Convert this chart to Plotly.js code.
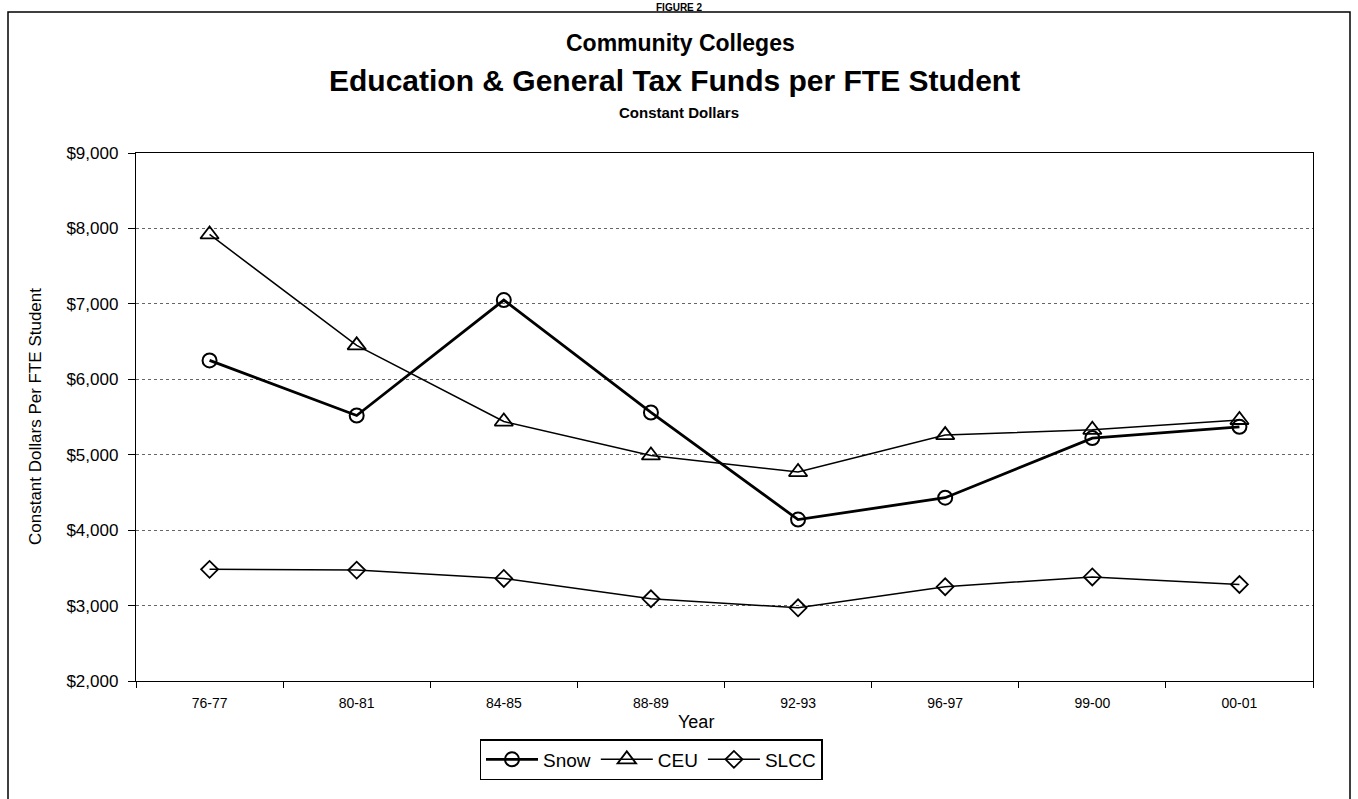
<!DOCTYPE html>
<html>
<head>
<meta charset="utf-8">
<script src="https://cdn.plot.ly/plotly-3.0.1.min.js"></script>
<style>html,body{margin:0;padding:0;background:#fff;}#chart{width:1358px;height:799px;}</style>
</head>
<body>
<div id="chart"></div>
<script>
const years = ["76-77","80-81","84-85","88-89","92-93","96-97","99-00","00-01"];
const snow = [6250, 5520, 7050, 5560, 4140, 4430, 5220, 5370];
const ceu  = [7920, 6450, 5440, 4990, 4770, 5260, 5330, 5460];
const slcc = [3480, 3470, 3360, 3090, 2970, 3250, 3380, 3280];

const FONT = '"Liberation Sans Narrow", "Arial Narrow", "Liberation Sans", Arial, sans-serif';
const W = 1358, H = 799, L = 136, R = 45, T = 153, B = 118;
const pw = W - L - R, ph = H - T - B;
const px = x => (x - L) / pw;
const py = y => (H - B - y) / ph;

const traces = [
  {x: years, y: snow, name: "Snow", type: "scatter", mode: "lines+markers",
   line: {color: "#000", width: 2.8},
   marker: {symbol: "circle-open", size: 14, color: "#000", line: {width: 2, color: "#000"}}},
  {x: years, y: ceu, name: "CEU", type: "scatter", mode: "lines+markers",
   line: {color: "#000", width: 1.5},
   marker: {symbol: "triangle-up-open", size: 16, color: "#000", line: {width: 1.8, color: "#000"}}},
  {x: years, y: slcc, name: "SLCC", type: "scatter", mode: "lines+markers",
   line: {color: "#000", width: 1.5},
   marker: {symbol: "diamond-open", size: 13, color: "#000", line: {width: 1.8, color: "#000"}}}
];

const layout = {
  width: W, height: H,
  margin: {l: L, r: R, t: T, b: B, pad: 0},
  paper_bgcolor: "#fff", plot_bgcolor: "#fff",
  font: {family: FONT, color: "#000"},
  showlegend: true,
  legend: {orientation: "h", x: px(651), xanchor: "center", y: py(739), yanchor: "top",
           bordercolor: "#000", borderwidth: 1.5, font: {size: 19, family: FONT},
           itemwidth: 52, tracegroupgap: 0, bgcolor: "#fff"},
  xaxis: {type: "category", range: [-0.5, 7.5], tickson: "boundaries",
          ticks: "outside", ticklen: 6, tickcolor: "#000", tickwidth: 1,
          showline: true, linecolor: "#000", linewidth: 1.2, mirror: true,
          showgrid: false, zeroline: false,
          tickfont: {size: 14, family: FONT}, ticklabelstandoff: 9},
  yaxis: {range: [2000, 9000], dtick: 1000, tick0: 2000,
          tickprefix: "$", tickformat: ",d",
          ticks: "outside", ticklen: 7, tickcolor: "#000", tickwidth: 1,
          showline: true, linecolor: "#000", linewidth: 1.2, mirror: true,
          showgrid: true, gridcolor: "#666", griddash: "dot", gridwidth: 1,
          zeroline: false, tickfont: {size: 17, family: FONT}, ticklabelstandoff: 6},
  annotations: [
    {text: "<b>FIGURE 2</b>", xref: "paper", yref: "paper", x: px(679), y: py(0), yanchor: "top",
     showarrow: false, font: {size: 10, family: FONT}},
    {text: "<b>Community Colleges</b>", xref: "paper", yref: "paper", x: px(680), y: py(43),
     yanchor: "middle", showarrow: false, font: {size: 23, family: FONT}},
    {text: "<b>Education & General Tax Funds per FTE Student</b>", xref: "paper", yref: "paper",
     x: px(674), y: py(80), yanchor: "middle", showarrow: false, font: {size: 30, family: FONT}},
    {text: "<b>Constant Dollars</b>", xref: "paper", yref: "paper", x: px(679), y: py(112),
     yanchor: "middle", showarrow: false, font: {size: 15, family: FONT}},
    {text: "Constant Dollars Per FTE Student", xref: "paper", yref: "paper", x: px(35), y: py(417),
     textangle: -90, xanchor: "center", yanchor: "middle", showarrow: false, font: {size: 17, family: FONT}},
    {text: "Year", xref: "paper", yref: "paper", x: px(696), y: py(722), xanchor: "center",
     yanchor: "middle", showarrow: false, font: {size: 18, family: FONT}}
  ],
  shapes: [
    {type: "rect", xref: "paper", yref: "paper", x0: px(8), x1: px(1350), y0: py(830), y1: py(12),
     line: {color: "#000", width: 1.5}, layer: "below"}
  ]
};

Plotly.newPlot("chart", traces, layout, {displayModeBar: false, staticPlot: true});
</script>
</body>
</html>
